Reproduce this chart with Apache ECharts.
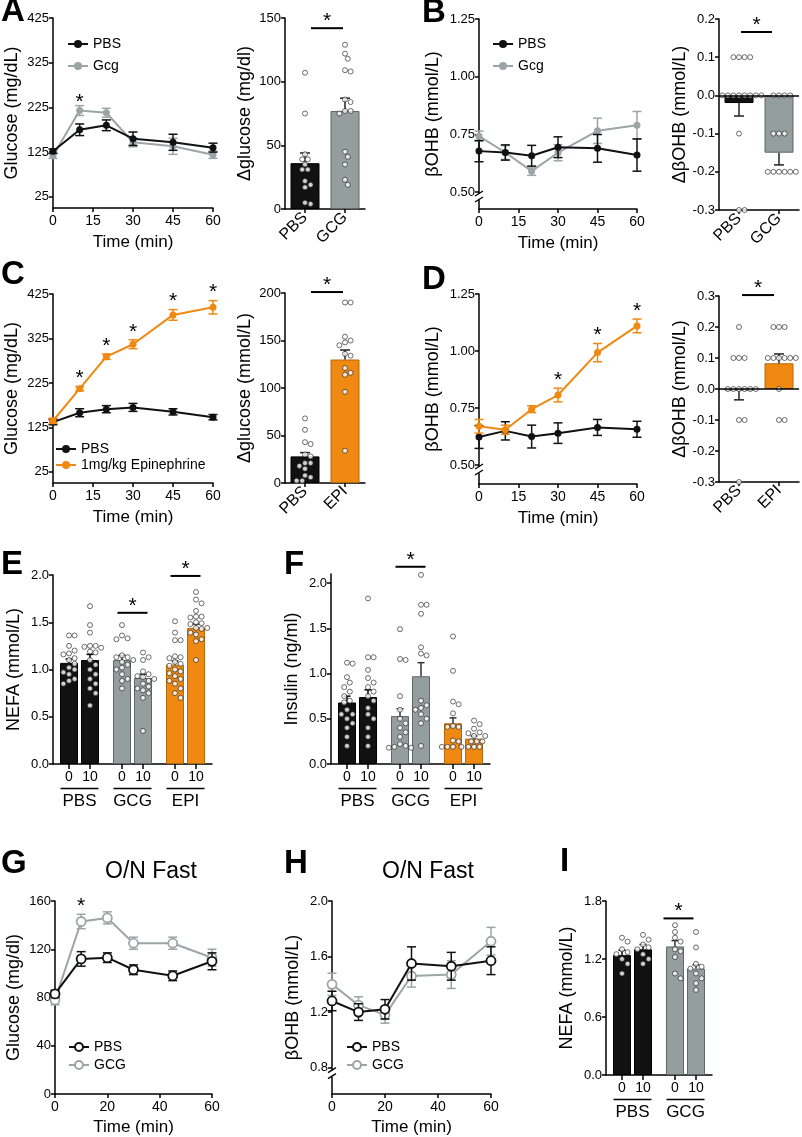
<!DOCTYPE html>
<html><head><meta charset="utf-8">
<script src="https://cdn.jsdelivr.net/npm/echarts@6/dist/echarts.min.js"></script>
<style>html,body{margin:0;padding:0;background:#fff}#c{width:802px;height:1137px}</style>
</head><body><div id="c"></div>
<script>
// ================= DATA =================
const timeMin = [0,10,20,30,45,60];
// Panel A
const aPbsMean = [127,175,185,155,147,135];
const aPbsSem  = [5,13,12,15,18,10];
const aGcgMean = [117,218,213,147,138,119];
const aGcgSem  = [6,11,10,10,18,8];
const aBarCats = ['PBS','GCG'];
const aBarMean = [36,77];
const aBarSem  = [8,10];
const aBarPts0 = [107,75,43,39,39,35,31,31,22,19,17,5,4];
const aBarPts1 = [129,122,118,109,108,86,84,77,77,75,45,41,35,23,19];
// Panel B
const bPbsMean = [0.677,0.671,0.657,0.694,0.689,0.660];
const bPbsSem  = [0.046,0.033,0.045,0.045,0.060,0.070];
const bGcgMean = [0.742,0.671,0.590,0.670,0.765,0.789];
const bGcgSem  = [0.022,0.030,0.018,0.035,0.055,0.060];
const bBarCats = ['PBS','GCG'];
const bBarMean = [-0.02,-0.15];
const bBarSem  = [0.034,0.032];
const bBarPts0 = [0.1,0.1,0.1,0.1,0,0,0,0,0,0,0,0,-0.1,-0.3,-0.3];
const bBarPts1 = [0,0,0,0,-0.1,-0.1,-0.1,-0.2,-0.2,-0.2,-0.2,-0.2,-0.2];
// Panel C
const cPbsMean = [137,158,166,170,160,148];
const cPbsSem  = [6,9,8,9,7,6];
const cEpiMean = [140,212,284,312,378,395];
const cEpiSem  = [6,5,6,10,12,15];
const cBarCats = ['PBS','EPI'];
const cBarMean = [28,130];
const cBarSem  = [4,10];
const cBarPts0 = [68,56,43,41,30,28,21,21,18,15,8,6,2.5,2.5];
const cBarPts1 = [190,190,154,150,148,145,136,134,121,116,114,96,34];
// Panel D
const dPbsMean = [0.623,0.650,0.625,0.640,0.665,0.657];
const dPbsSem  = [0.050,0.040,0.050,0.045,0.035,0.035];
const dEpiMean = [0.670,0.655,0.745,0.807,0.993,1.110];
const dEpiSem  = [0.030,0.020,0.015,0.030,0.040,0.030];
const dBarCats = ['PBS','EPI'];
const dBarMean = [-0.005,0.083];
const dBarSem  = [0.03,0.03];
const dBarPts0 = [0.2,0.1,0.1,0.1,0,0,0,0,0,0,-0.1,-0.1,-0.3];
const dBarPts1 = [0.2,0.2,0.2,0.1,0.1,0.1,0.1,0.1,0.1,0,-0.1,-0.1];
// Panel E (NEFA)
const eGroups = ['PBS','GCG','EPI'];
const eMean0 = [1.07,1.10,1.05];
const eSem0  = [0.04,0.05,0.04];
const eMean10 = [1.10,0.91,1.44];
const eSem10  = [0.06,0.04,0.04];
const ePts0 = [
  [1.36,1.36,1.25,1.2,1.17,1.16,1.12,1.1,1.06,1.02,1.0,0.97,0.95,0.9,0.88,0.85],
  [1.47,1.36,1.33,1.32,1.15,1.13,1.13,1.1,1.08,1.05,1.02,1.0,0.95,0.9,0.88,0.8],
  [1.51,1.39,1.31,1.31,1.14,1.13,1.12,1.08,1.06,1.04,1.0,0.98,0.96,0.93,0.9,0.88,0.85,0.8,0.75,0.7]
];
const ePts10 = [
  [1.67,1.47,1.39,1.25,1.25,1.24,1.23,1.19,1.18,1.1,1.05,1.0,0.95,0.9,0.85,0.8,0.75,0.62],
  [1.18,1.13,1.1,0.98,0.95,0.93,0.92,0.9,0.88,0.85,0.82,0.8,0.78,0.75,0.7,0.35],
  [1.82,1.74,1.7,1.62,1.56,1.55,1.56,1.5,1.49,1.48,1.44,1.43,1.44,1.39,1.37,1.32,1.3,1.1]
];
// Panel F (Insulin)
const fGroups = ['PBS','GCG','EPI'];
const fMean0 = [0.68,0.53,0.45];
const fSem0  = [0.07,0.08,0.06];
const fMean10 = [0.74,0.97,0.28];
const fSem10  = [0.08,0.15,0.03];
const fPts0 = [
  [1.11,1.12,0.96,0.9,0.85,0.8,0.75,0.7,0.68,0.6,0.55,0.55,0.5,0.45,0.4,0.3,0.2],
  [1.49,1.16,1.15,0.75,0.6,0.5,0.45,0.4,0.35,0.3,0.22,0.2,0.19,0.18,0.18],
  [1.41,1.03,0.69,0.66,0.56,0.42,0.41,0.41,0.26,0.25,0.19,0.19,0.19,0.19]
];
const fPts10 = [
  [1.83,1.18,1.18,1.04,0.95,0.9,0.85,0.8,0.75,0.7,0.62,0.55,0.5,0.4,0.3,0.2],
  [2.09,1.76,1.76,1.66,1.29,1.22,1.2,0.62,0.45,0.7,0.65,0.6,0.55,0.5,0.2],
  [0.48,0.44,0.39,0.35,0.34,0.31,0.31,0.25,0.25,0.25,0.19,0.19,0.19]
];
// Panel G (O/N fast glucose)
const gPbsMean = [83,112,113,103,98,110];
const gPbsSem  = [3,6,4,4,4,7];
const gGcgMean = [78,143,146,125,125,113];
const gGcgSem  = [4,6,5,5,5,7];
// Panel H (O/N fast bOHB)
const hPbsMean = [1.28,1.20,1.22,1.55,1.53,1.57];
const hPbsSem  = [0.07,0.06,0.07,0.12,0.10,0.10];
const hGcgMean = [1.40,1.25,1.18,1.46,1.47,1.71];
const hGcgSem  = [0.08,0.06,0.06,0.08,0.10,0.10];
// Panel I (O/N fast NEFA)
const iGroups = ['PBS','GCG'];
const iMean0 = [1.24,1.33];
const iSem0  = [0.05,0.06];
const iMean10 = [1.30,1.10];
const iSem10  = [0.05,0.04];
const iPts0 = [
  [1.42,1.38,1.3,1.27,1.25,1.2,1.15,1.05],
  [1.55,1.48,1.42,1.38,1.3,1.28,1.22,1.05,1.0]
];
const iPts10 = [
  [1.45,1.4,1.35,1.32,1.3,1.25,1.2,1.15],
  [1.48,1.32,1.15,1.12,1.1,1.05,1.0,0.95,0.88]
];

// ================= STYLE / LAYOUT =================
const F = '"Liberation Sans", Arial, Helvetica, sans-serif';
const BLACK='#111111', GRAYL='#9ca5a5', GRAYB='#949e9d', ORANGE='#ef8912';
const GFILL = {PBS:BLACK, GCG:GRAYB, EPI:ORANGE};
const GBORD = {PBS:'#000', GCG:'#5f6767', EPI:'#b5680c'};
const L = {
  A:{left:53,top:18,width:160,height:190},
  Ab:{left:285,top:18,width:80,height:191},
  B:{left:479,top:19,width:158,height:190},
  Bb:{left:719,top:19,width:80,height:191},
  C:{left:53,top:294,width:160,height:189},
  Cb:{left:285,top:293,width:80,height:190},
  D:{left:479,top:294,width:158,height:190},
  Db:{left:719,top:296,width:80,height:186},
  E:{left:53,top:575,width:159,height:189},
  F:{left:331,top:574,width:159,height:190},
  G:{left:55,top:901,width:157,height:199},
  H:{left:332,top:901,width:159,height:199},
  I:{left:606,top:901,width:106,height:174}
};
const order = ['A','Ab','B','Bb','C','Cb','D','Db','E','F','G','H','I'];
const GI = {}; order.forEach((k,i)=>GI[k]=i);
const grids = order.map(k=>({left:L[k].left, top:L[k].top, width:L[k].width, height:L[k].height, containLabel:false}));
const xAxes = [], yAxes = [], series = [];
const yRange = {};

const axLine = ()=>({show:true, onZero:false, lineStyle:{color:'#000', width:1.5}});
const axTick = ()=>({show:true, length:4, lineStyle:{color:'#000', width:1.5}});

function valY(g, o){
  yRange[g] = [o.min, o.max];
  const ax = {type:'value', gridIndex:g, min:o.min, max:o.max, splitLine:{show:false},
    axisLine:axLine(), axisTick:axTick(),
    axisLabel:{color:'#000', fontSize:13, fontFamily:F, margin:4},
    name:o.name, nameLocation:'middle', nameGap:o.gap, nameRotate:90,
    nameTextStyle:{color:'#000', fontSize:o.nameSize||18, fontFamily:F}};
  if (o.fmt) ax.axisLabel.formatter = o.fmt;
  if (o.interval!=null) ax.interval = o.interval;
  if (o.ticks){ ax.axisTick.customValues = o.ticks; ax.axisLabel.customValues = o.ticks; }
  return ax;
}
function timeX(g, interval, gap){
  return {type:'value', gridIndex:g, min:0, max:60, interval:interval, splitLine:{show:false},
    axisLine:axLine(), axisTick:axTick(),
    axisLabel:{color:'#000', fontSize:14, fontFamily:F, margin:6},
    name:'Time (min)', nameLocation:'middle', nameGap:gap,
    nameTextStyle:{color:'#000', fontSize:17, fontFamily:F}};
}
function errSeries(g, xs, mean, sem, color, o){
  return {type:'custom', xAxisIndex:g, yAxisIndex:g, silent:true, z:o.z||2,
    data: xs.map((x,i)=>[x, mean[i], sem[i]]),
    renderItem(params, api){
      const xv=api.value(0), m=api.value(1), s=api.value(2);
      let lo, hi;
      if (o.mode==='both'){ lo=m-s; hi=m+s; } else if (m>=0){ lo=m; hi=m+s; } else { lo=m-s; hi=m; }
      const pH=api.coord([xv,hi]), pL=api.coord([xv,lo]);
      const x=pH[0]+(o.offset||0), h=o.capW/2;
      const st={stroke:color, lineWidth:1.5};
      const ch=[{type:'line', shape:{x1:x,y1:pL[1],x2:x,y2:pH[1]}, style:st}];
      if (o.mode==='both'){
        ch.push({type:'line', shape:{x1:x-h,y1:pH[1],x2:x+h,y2:pH[1]}, style:st});
        ch.push({type:'line', shape:{x1:x-h,y1:pL[1],x2:x+h,y2:pL[1]}, style:st});
      } else {
        const cy = m>=0 ? pH[1] : pL[1];
        ch.push({type:'line', shape:{x1:x-h,y1:cy,x2:x+h,y2:cy}, style:st});
      }
      return {type:'group', children:ch};
    }};
}
function lineSeries(g, name, xs, ys, color, open, z){
  return {type:'line', name:name, xAxisIndex:g, yAxisIndex:g, z:z||3,
    data: xs.map((x,i)=>[x, ys[i]]), symbol:'circle', symbolSize: open?9:7,
    lineStyle:{color:color, width:2}, color:color,
    itemStyle:{color: open?'#fff':color, borderColor:color, borderWidth: open?1.8:0},
    emphasis:{disabled:true}, animation:false};
}
// simple deterministic beeswarm: horizontal px offsets
function swarm(values, pxPerUnit, d){
  const placed=[], res=new Array(values.length);
  const idx=values.map((v,i)=>i).sort((a,b)=>values[b]-values[a]);
  idx.forEach(i=>{
    const y=values[i]*pxPerUnit;
    for (let k=0;k<60;k++){
      const dx = k===0 ? 0 : (k%2?1:-1)*Math.ceil(k/2)*d/2;
      if (placed.every(p=>Math.hypot(p.x-dx,p.y-y)>=d-0.01)){ placed.push({x:dx,y:y}); res[i]=dx; break; }
    }
  });
  return res;
}
function ptsSeries(g, catIdx, pts, barOff){
  const [mn,mx]=yRange[g];
  const ppu = grids[g].height/(mx-mn);
  const offs = swarm(pts, ppu, 5.6);
  return {type:'scatter', xAxisIndex:g, yAxisIndex:g, z:4, silent:true, symbol:'circle', symbolSize:5,
    itemStyle:{color:'#fff', borderColor:'#1a1a1a', borderWidth:0.8},
    data: pts.map((v,i)=>({value:[catIdx, v], symbolOffset:[offs[i]+barOff, 0]}))};
}

// ---------- line panels ----------
function linePanel(key, groups, yo, xInt, xGap){
  const g=GI[key];
  xAxes.push(timeX(g, xInt, xGap));
  yAxes.push(valY(g, yo));
  groups.forEach(gr=>{
    series.push(errSeries(g, timeMin, gr.mean, gr.sem, gr.color, {mode:'both', capW:9, z:gr.z}));
    series.push(lineSeries(g, gr.name, timeMin, gr.mean, gr.color, gr.open, gr.z+1));
  });
}
// ---------- two-bar delta panels ----------
function deltaPanel(key, cats, mean, sem, pts0, pts1, fills, yo, zeroLine){
  const g=GI[key];
  xAxes.push({type:'category', gridIndex:g, data:cats, axisLine:axLine(),
    axisTick:{show:true, alignWithLabel:true, interval:0, length:4, lineStyle:{color:'#000', width:1.5}},
    axisLabel:{interval:0, rotate:45, color:'#000', fontSize:16, fontFamily:F, margin:6}, splitLine:{show:false}});
  yAxes.push(valY(g, yo));
  const bar = {type:'bar', xAxisIndex:g, yAxisIndex:g, barWidth:29, z:1, animation:false,
    data: mean.map((v,i)=>({value:v, itemStyle:{color:fills[i], borderColor:GBORD[i===0?'PBS':(cats[i]==='EPI'?'EPI':'GCG')], borderWidth:1}}))};
  if (zeroLine) bar.markLine = {silent:true, symbol:'none', label:{show:false}, animation:false,
    lineStyle:{color:'#000', width:1.5, type:'solid'}, data:[{yAxis:0}]};
  series.push(bar);
  series.push(errSeries(g, [0,1], mean, sem, '#222', {mode:'bar', capW:10, z:2}));
  series.push(ptsSeries(g, 0, pts0, 0));
  series.push(ptsSeries(g, 1, pts1, 0));
}
// ---------- grouped (0 / 10 min) panels ----------
const BW=18, BOFF=10.5;
function groupAxisLabel(){
  return {interval:0, margin:0,
    formatter: v => '{tk|}{sp|}{tk|}\n{n|0}{n|10}\n{ln|}\n{g|'+v+'}',
    rich:{
      tk:{width:1.5, height:5, lineHeight:5, backgroundColor:'#000'},
      sp:{width:19.5, height:5, lineHeight:5},
      n:{width:21, align:'center', fontSize:14, lineHeight:16, color:'#000', fontFamily:F},
      ln:{width:38, height:1.5, lineHeight:7, backgroundColor:'#000'},
      g:{fontSize:17, lineHeight:19, color:'#000', fontFamily:F}
    }};
}
function groupPanel(key, groups, m0, s0, m10, s10, p0, p10, yo){
  const g=GI[key];
  xAxes.push({type:'category', gridIndex:g, data:groups, axisLine:axLine(), axisTick:{show:false},
    axisLabel:groupAxisLabel(), splitLine:{show:false}});
  yAxes.push(valY(g, yo));
  [[m0,s0,p0,-1],[m10,s10,p10,1]].forEach(([m,s,p,sg])=>{
    series.push({type:'bar', xAxisIndex:g, yAxisIndex:g, barWidth:BW, barGap:'16.7%', z:1, animation:false,
      data: m.map((v,i)=>({value:v, itemStyle:{color:GFILL[groups[i]], borderColor:GBORD[groups[i]], borderWidth:1}}))});
  });
  [[m0,s0,p0,-1],[m10,s10,p10,1]].forEach(([m,s,p,sg])=>{
    groups.forEach((gn,i)=>{
      series.push(errSeries(g, [i], [m[i]], [s[i]], gn==='PBS'?'#000':'#333', {mode:'bar', capW:7, offset:sg*BOFF, z:2}));
      series.push(ptsSeries(g, i, p[i], sg*BOFF));
    });
  });
}

const f0 = v=>String(Math.round(v));
const f1 = v=>(Math.abs(v)<1e-9?0:v).toFixed(1);
const f2 = v=>v.toFixed(2);

linePanel('A', [
  {name:'A:Gcg', mean:aGcgMean, sem:aGcgSem, color:GRAYL, z:3},
  {name:'A:PBS', mean:aPbsMean, sem:aPbsSem, color:BLACK, z:5}],
  {min:0, max:425, ticks:[25,125,225,325,425], fmt:f0, name:'Glucose (mg/dL)', gap:32}, 15, 26);
deltaPanel('Ab', aBarCats, aBarMean, aBarSem, aBarPts0, aBarPts1, [BLACK,GRAYB],
  {min:0, max:150, interval:50, fmt:f0, name:'Δglucose (mg/dl)', gap:31}, false);
linePanel('B', [
  {name:'B:Gcg', mean:bGcgMean, sem:bGcgSem, color:GRAYL, z:3},
  {name:'B:PBS', mean:bPbsMean, sem:bPbsSem, color:BLACK, z:5}],
  {min:0.426, max:1.25, ticks:[0.5,0.75,1,1.25], fmt:f2, name:'βOHB (mmol/L)', gap:37}, 15, 26);
deltaPanel('Bb', bBarCats, bBarMean, bBarSem, bBarPts0, bBarPts1, [BLACK,GRAYB],
  {min:-0.3, max:0.2, interval:0.1, fmt:f1, name:'ΔβOHB (mmol/L)', gap:25}, true);
linePanel('C', [
  {name:'C:PBS', mean:cPbsMean, sem:cPbsSem, color:BLACK, z:3},
  {name:'C:1mg/kg Epinephrine', mean:cEpiMean, sem:cEpiSem, color:ORANGE, z:5}],
  {min:0, max:425, ticks:[25,125,225,325,425], fmt:f0, name:'Glucose (mg/dL)', gap:32}, 15, 26);
deltaPanel('Cb', cBarCats, cBarMean, cBarSem, cBarPts0, cBarPts1, [BLACK,ORANGE],
  {min:0, max:200, interval:50, fmt:f0, name:'Δglucose (mmol/L)', gap:31}, false);
linePanel('D', [
  {name:'D:PBS', mean:dPbsMean, sem:dPbsSem, color:BLACK, z:3},
  {name:'D:EPI', mean:dEpiMean, sem:dEpiSem, color:ORANGE, z:5}],
  {min:0.417, max:1.25, ticks:[0.5,0.75,1,1.25], fmt:f2, name:'βOHB (mmol/L)', gap:37}, 15, 26);
deltaPanel('Db', dBarCats, dBarMean, dBarSem, dBarPts0, dBarPts1, [BLACK,ORANGE],
  {min:-0.3, max:0.3, interval:0.1, fmt:f1, name:'ΔβOHB (mmol/L)', gap:25}, true);
groupPanel('E', eGroups, eMean0, eSem0, eMean10, eSem10, ePts0, ePts10,
  {min:0, max:2, interval:0.5, fmt:f1, name:'NEFA (mmol/L)', gap:30});
groupPanel('F', fGroups, fMean0, fSem0, fMean10, fSem10, fPts0, fPts10,
  {min:0, max:2.1, ticks:[0,0.5,1,1.5,2], fmt:f1, name:'Insulin (ng/ml)', gap:30});
linePanel('G', [
  {name:'G:GCG', mean:gGcgMean, sem:gGcgSem, color:GRAYL, open:true, z:3},
  {name:'G:PBS', mean:gPbsMean, sem:gPbsSem, color:BLACK, open:true, z:5}],
  {min:0, max:160, interval:40, fmt:f0, name:'Glucose (mg/dl)', gap:32}, 20, 25);
linePanel('H', [
  {name:'H:GCG', mean:hGcgMean, sem:hGcgSem, color:GRAYL, open:true, z:3},
  {name:'H:PBS', mean:hPbsMean, sem:hPbsSem, color:BLACK, open:true, z:5}],
  {min:0.61, max:2.0, ticks:[0.8,1.2,1.6,2.0], fmt:f1, name:'βOHB (mmol/L)', gap:30}, 20, 25);
groupPanel('I', iGroups, iMean0, iSem0, iMean10, iSem10, iPts0, iPts10,
  {min:0, max:1.8, interval:0.6, fmt:f1, name:'NEFA (mmol/L)', gap:30});

const strip = n => n.slice(n.indexOf(':')+1);
const lg = (left, top, data, gap) => ({left:left, top:top, orient:'vertical', itemGap:gap, itemWidth:20, itemHeight:10,
  data:data, formatter:strip, selectedMode:false, padding:0,
  textStyle:{fontSize:14, color:'#000', fontFamily:F}});
const legends = [
  lg(67, 37, ['A:PBS','A:Gcg'], 8),
  lg(492, 37, ['B:PBS','B:Gcg'], 8),
  lg(55, 442, ['C:PBS','C:1mg/kg Epinephrine'], 2),
  lg(68, 1040, ['G:PBS','G:GCG'], 4),
  lg(346, 1040, ['H:PBS','H:GCG'], 4)
];

const chart = echarts.init(document.getElementById('c'), null, {renderer:'canvas'});
chart.setOption({animation:false, backgroundColor:'#fff', grid:grids, xAxis:xAxes, yAxis:yAxes, series:series, legend:legends});

// ================= annotations =================
const P = (key, x, y) => chart.convertToPixel({gridIndex:GI[key]}, [x, y]);
const gfx = [];
const txt = (x,y,s,font,align,va) => ({type:'text', x:x, y:y, z:50, silent:true,
  style:{text:s, font:font, fill:'#000', align:align||'left', verticalAlign:va||'top', textAlign:align||'left', textVerticalAlign:va||'top'}});
// panel letters
[['A',1,-5],['B',422,-4],['C',1,258],['D',422,263],['E',1,548],['F',284,548],['G',1,847],['H',284,847],['I',560,845]]
  .forEach(([s,x,y])=>gfx.push(txt(x,y,s,'bold 33px '+F)));
gfx.push(txt(151,872,'O/N Fast','23px '+F,'center','middle'));
gfx.push(txt(428,872,'O/N Fast','23px '+F,'center','middle'));
// asterisks over time points: above mean+sem of the treated series
function star(px, py){ gfx.push(txt(px, py+5, '*', '21px '+F, 'center', 'middle')); }
[['A',1,aGcgMean,aGcgSem,8]].concat(
  [1,2,3,4,5].map(i=>['C',i,cEpiMean,cEpiSem,13]),
  [3,4,5].map(i=>['D',i,dEpiMean,dEpiSem,13]),
  [['G',1,gGcgMean,gGcgSem,13]]
).forEach(([k,i,m,s,up])=>{ const p=P(k, timeMin[i], m[i]+s[i]); star(p[0], p[1]-up); });
// significance bars: [panel, cat0, dx0, cat1, dx1, yValue]
const sig = [
  ['Ab',0,6,1,-2,142], ['Bb',0,2,1,-7,0.166], ['Cb',0,6,1,-2,201], ['Db',0,3,1,-5,0.303],
  ['E',1,-15,1,15,1.6], ['E',2,-15,2,15,1.99], ['F',1,-15,1,15,2.18], ['I',1,-22,1,8,1.62]
];
sig.forEach(([k,c0,d0,c1,d1,y])=>{
  const a=P(k,c0,y), b=P(k,c1,y);
  gfx.push({type:'line', z:50, silent:true, shape:{x1:a[0]+d0,y1:a[1],x2:b[0]+d1,y2:b[1]}, style:{stroke:'#000', lineWidth:2}});
  star((a[0]+d0+b[0]+d1)/2, a[1]-12);
});
// axis breaks
[['B',0.5,5],['D',0.5,5],['H',0.8,6]].forEach(([k,v,dy])=>{
  const p=P(k,0,v); const x=p[0], y=p[1]+dy;
  gfx.push({type:'rect', z:60, silent:true, shape:{x:x-2,y:y-3,width:4,height:6}, style:{fill:'#fff'}});
  gfx.push({type:'line', z:61, silent:true, shape:{x1:x-4,y1:y-1,x2:x+4,y2:y-6}, style:{stroke:'#000', lineWidth:1.3}});
  gfx.push({type:'line', z:61, silent:true, shape:{x1:x-4,y1:y+5,x2:x+4,y2:y}, style:{stroke:'#000', lineWidth:1.3}});
});
chart.setOption({graphic:gfx});
</script></body></html>
